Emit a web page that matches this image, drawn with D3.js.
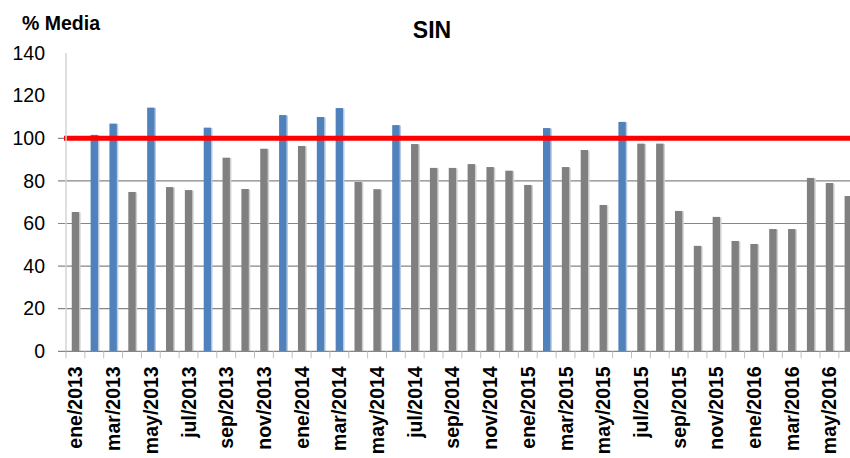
<!DOCTYPE html>
<html>
<head>
<meta charset="utf-8">
<script src="https://cdn.jsdelivr.net/npm/d3@7"></script>
<style>
  html, body { margin: 0; padding: 0; background: #fff; overflow: hidden; }
  svg { display: block; }
  text { font-family: "Liberation Sans", Arial, sans-serif; }
</style>
</head>
<body>
<script>
// ---- data ----
const monthNames = ["ene","feb","mar","abr","may","jun","jul","ago","sep","oct","nov","dic"];
const years = [2013, 2014, 2015, 2016];
const categories = [];
years.forEach(y => monthNames.forEach(m => categories.push(m + "/" + y)));
categories.splice(42); // ene/2013 .. jun/2016

const values = [65.4, 101.6, 106.9, 74.8, 114.4, 77.1, 75.7, 105.0, 90.9, 76.2, 95.1, 110.9,
                96.4, 110.0, 114.2, 79.5, 76.1, 106.2, 97.3, 86.1, 86.1, 87.9, 86.5, 84.8,
                78.1, 104.8, 86.5, 94.5, 68.7, 107.7, 97.5, 97.5, 65.9, 49.5, 63.1, 51.8,
                50.4, 57.4, 57.4, 81.4, 79.0, 72.9];
const tickLabels = categories.filter((c, i) => i % 2 === 0);
const yTicks = [0, 20, 40, 60, 80, 100, 120, 140];
const gridValues = [20, 40, 60, 80, 100];
const reference = 100;
const title = "SIN";
const yTitle = "% Media";

// ---- layout ----
const W = 850, H = 458;
const svg = d3.select("body").append("svg").attr("width", W).attr("height", H);

const x0 = 66, step = 18.85;
const x = d3.scaleBand().domain(categories)
  .range([x0, x0 + step * categories.length])
  .paddingInner(0.61).paddingOuter(0.305);
const y = d3.scaleLinear().domain([0, 140]).range([351.3, 53.1]);

// gridlines
svg.append("g").selectAll("line").data(gridValues).join("line")
  .attr("x1", 58).attr("x2", W)
  .attr("y1", d => y(d)).attr("y2", d => y(d))
  .attr("stroke", "#868686").attr("stroke-width", 1.2);

// bars (shadow + bar)
const bars = svg.append("g");
bars.selectAll("rect.sh").data(values).join("rect").attr("class", "sh")
  .attr("x", (d, i) => x(categories[i]) + 1.5)
  .attr("y", d => y(d) + 0.5)
  .attr("width", x.bandwidth())
  .attr("height", d => y(0) - y(d) - 0.5)
  .attr("fill", d => d > reference ? "#b8c9e0" : "#cfcfcf");
bars.selectAll("rect.b").data(values).join("rect").attr("class", "b")
  .attr("x", (d, i) => x(categories[i]))
  .attr("y", d => y(d))
  .attr("width", x.bandwidth())
  .attr("height", d => y(0) - y(d))
  .attr("fill", d => d > reference ? "#4F81BD" : "#808080");

// reference line
svg.append("line")
  .attr("x1", 64).attr("x2", W)
  .attr("y1", y(reference)).attr("y2", y(reference))
  .attr("stroke", "#FF0000").attr("stroke-width", 5);

// y axis line
svg.append("line").attr("x1", 66).attr("x2", 66)
  .attr("y1", y(140)).attr("y2", y(0))
  .attr("stroke", "#d4d4d4").attr("stroke-width", 1.5);

// x axis baseline
svg.append("line").attr("x1", 58).attr("x2", W)
  .attr("y1", y(0)).attr("y2", y(0))
  .attr("stroke", "#868686").attr("stroke-width", 1.2);

// x tick marks at band boundaries
const bounds = categories.map(c => x(c) - (x.step() - x.bandwidth()) / 2);
svg.append("g").selectAll("line").data(bounds).join("line")
  .attr("x1", d => d).attr("x2", d => d)
  .attr("y1", y(0)).attr("y2", y(0) + 7)
  .attr("stroke", "#c0c0c0").attr("stroke-width", 1);

// y axis labels
const yAxis = d3.axisLeft(y).tickValues(yTicks).tickSize(0).tickPadding(0);
const gy = svg.append("g").attr("transform", "translate(45,0)").call(yAxis);
gy.select(".domain").remove();
gy.selectAll("text").attr("font-size", 19.5).attr("fill", "#000")
  .attr("font-family", "'Liberation Sans', Arial, sans-serif");

// x axis labels
const xAxis = d3.axisBottom(x).tickValues(tickLabels).tickSize(0);
const gx = svg.append("g").attr("transform", `translate(0,${y(0)})`).call(xAxis);
gx.select(".domain").remove();
gx.selectAll("text")
  .attr("font-size", 19.5).attr("font-weight", "bold").attr("fill", "#000")
  .attr("font-family", "'Liberation Sans', Arial, sans-serif")
  .attr("text-anchor", "end")
  .attr("transform", "rotate(-90)")
  .attr("x", -15).attr("y", 0).attr("dy", "0.36em");

// titles
svg.append("text").attr("x", 432).attr("y", 38).attr("text-anchor", "middle")
  .attr("font-size", 23).attr("font-weight", "bold").text(title);
svg.append("text").attr("x", 22).attr("y", 30)
  .attr("font-size", 19.5).attr("font-weight", "bold").text(yTitle);
</script>
</body>
</html>
